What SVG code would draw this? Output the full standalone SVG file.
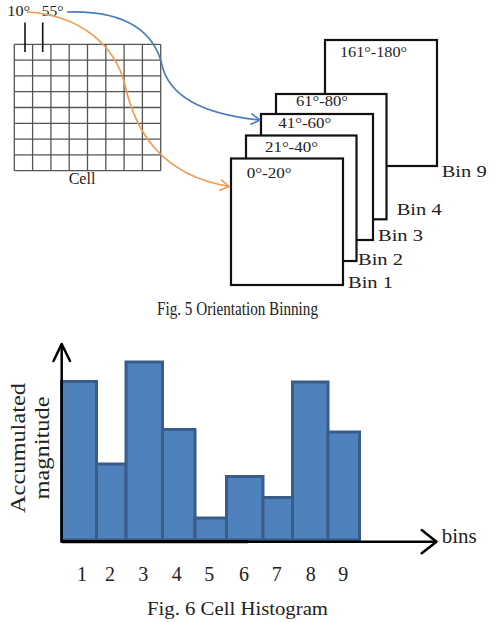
<svg xmlns="http://www.w3.org/2000/svg" width="498" height="622" viewBox="0 0 498 622">
<style>
text{font-family:"Liberation Serif","Times New Roman",serif;fill:#222}
.grid line{stroke:#555;stroke-width:1.3}
.bin{fill:#fff;stroke:#111;stroke-width:2.2}
.deg{font-size:14px}
.binl{font-size:17px}
.bar{fill:#4f81bd;stroke:#385d8a;stroke-width:3}
.ax{stroke:#000;stroke-width:2.5;fill:none;stroke-linecap:round;stroke-linejoin:round}
.cap{font-size:18px}
</style>
<defs>
<marker id="ao" viewBox="-10 -7 12 14" markerWidth="12" markerHeight="14" refX="0" refY="0" orient="auto" markerUnits="userSpaceOnUse">
<path d="M-9,-5.5 L0,0 L-9,5.5" fill="none" stroke="#f39a4e" stroke-width="1.6"/>
</marker>
<marker id="ab" viewBox="-10 -7 12 14" markerWidth="12" markerHeight="14" refX="0" refY="0" orient="auto" markerUnits="userSpaceOnUse">
<path d="M-9,-5.5 L0,0 L-9,5.5" fill="none" stroke="#4a7ebb" stroke-width="1.6"/>
</marker>
</defs>

<g id="cell">
<g class="grid">
<line x1="14.3" y1="44.3" x2="160.7" y2="44.3"/>
<line x1="14.3" y1="60.1" x2="160.7" y2="60.1"/>
<line x1="14.3" y1="75.9" x2="160.7" y2="75.9"/>
<line x1="14.3" y1="91.7" x2="160.7" y2="91.7"/>
<line x1="14.3" y1="107.5" x2="160.7" y2="107.5"/>
<line x1="14.3" y1="123.3" x2="160.7" y2="123.3"/>
<line x1="14.3" y1="139.1" x2="160.7" y2="139.1"/>
<line x1="14.3" y1="154.9" x2="160.7" y2="154.9"/>
<line x1="14.3" y1="170.7" x2="160.7" y2="170.7"/>
<line x1="14.3" y1="44.3" x2="14.3" y2="170.7"/>
<line x1="32.6" y1="44.3" x2="32.6" y2="170.7"/>
<line x1="50.9" y1="44.3" x2="50.9" y2="170.7"/>
<line x1="69.2" y1="44.3" x2="69.2" y2="170.7"/>
<line x1="87.5" y1="44.3" x2="87.5" y2="170.7"/>
<line x1="105.8" y1="44.3" x2="105.8" y2="170.7"/>
<line x1="124.1" y1="44.3" x2="124.1" y2="170.7"/>
<line x1="142.4" y1="44.3" x2="142.4" y2="170.7"/>
<line x1="160.7" y1="44.3" x2="160.7" y2="170.7"/>
</g>
<line x1="25" y1="22.5" x2="25" y2="52" stroke="#111" stroke-width="1.6"/>
<line x1="42.7" y1="22.5" x2="42.7" y2="52" stroke="#111" stroke-width="1.6"/>
<text class="deg" x="7.3" y="16" textLength="22.7" lengthAdjust="spacingAndGlyphs">10°</text>
<text class="deg" x="41.7" y="16" textLength="21.7" lengthAdjust="spacingAndGlyphs">55°</text>
<text x="82" y="184" font-size="16" text-anchor="middle">Cell</text>
</g>

<g id="bin9">
<rect class="bin" x="325" y="40" width="112" height="126"/>
<text class="deg" x="340" y="56.7" textLength="67" lengthAdjust="spacingAndGlyphs">161°-180°</text>
<text class="binl" x="441.7" y="176.7" textLength="45" lengthAdjust="spacingAndGlyphs">Bin 9</text>
</g>
<g id="bin4">
<rect class="bin" x="276" y="94" width="110.5" height="125.3"/>
<text class="deg" x="296" y="105.5" textLength="52" lengthAdjust="spacingAndGlyphs">61°-80°</text>
<text class="binl" x="396.7" y="215" textLength="45" lengthAdjust="spacingAndGlyphs">Bin 4</text>
</g>
<g id="bin3">
<rect class="bin" x="261" y="114" width="112" height="126"/>
<text class="deg" x="278.3" y="128" textLength="53" lengthAdjust="spacingAndGlyphs">41°-60°</text>
<text class="binl" x="378" y="240.7" textLength="45" lengthAdjust="spacingAndGlyphs">Bin 3</text>
</g>
<g id="bin2">
<rect class="bin" x="246" y="135.5" width="110.5" height="125.5"/>
<text class="deg" x="265" y="151.7" textLength="53" lengthAdjust="spacingAndGlyphs">21°-40°</text>
<text class="binl" x="358" y="265" textLength="45" lengthAdjust="spacingAndGlyphs">Bin 2</text>
</g>
<g id="bin1">
<rect class="bin" x="231" y="158.5" width="112" height="126.5"/>
<text class="deg" x="246.7" y="178" textLength="45" lengthAdjust="spacingAndGlyphs">0°-20°</text>
<text class="binl" x="348" y="288" textLength="45" lengthAdjust="spacingAndGlyphs">Bin 1</text>
</g>

<g id="connectors">
<path d="M27,12 C80,15 115,45 125,85 C135,130 160,175 229,186.5" fill="none" stroke="#f39a4e" stroke-width="1.6" marker-end="url(#ao)"/>
<path d="M67,12 C130,10 155,35 162,65 C170,100 210,115 260,120" fill="none" stroke="#4a7ebb" stroke-width="1.6" marker-end="url(#ab)"/>
</g>

<text id="cap5" class="cap" x="157" y="315" textLength="161" lengthAdjust="spacingAndGlyphs">Fig. 5  Orientation Binning</text>

<g id="histogram">
<rect class="bar" x="61.5" y="381.5" width="35" height="158.5"/>
<rect class="bar" x="96.5" y="464" width="29.5" height="76"/>
<rect class="bar" x="126" y="362" width="36.5" height="178"/>
<rect class="bar" x="162.5" y="429.5" width="32.5" height="110.5"/>
<rect class="bar" x="195" y="518" width="31.5" height="22"/>
<rect class="bar" x="226.5" y="476.5" width="36.5" height="63.5"/>
<rect class="bar" x="263" y="497.5" width="29.5" height="42.5"/>
<rect class="bar" x="292.5" y="382" width="35.5" height="158"/>
<rect class="bar" x="328" y="432" width="31.5" height="108"/>
<line x1="62" y1="541.7" x2="248" y2="541.7" stroke="#000" stroke-width="3.2"/>
<path class="ax" d="M61.7,541.7 V344.5"/>
<path class="ax" d="M53.5,361 L61.7,344 L70,361"/>
<path class="ax" d="M61.7,541.7 H435.5"/>
<path class="ax" d="M421.7,530 L436.5,541.7 L421.7,553.3"/>
<text x="441.7" y="543.3" font-size="21">bins</text>
<text transform="translate(25,448) rotate(-90)" font-size="21" text-anchor="middle" textLength="130" lengthAdjust="spacingAndGlyphs">Accumulated</text>
<text transform="translate(49,448) rotate(-90)" font-size="21" text-anchor="middle" textLength="103" lengthAdjust="spacingAndGlyphs">magnitude</text>
<g font-size="20" text-anchor="middle">
<text x="82" y="580.5">1</text>
<text x="110" y="580.5">2</text>
<text x="143.3" y="580.5">3</text>
<text x="176.7" y="580.5">4</text>
<text x="209.3" y="580.5">5</text>
<text x="244" y="580.5">6</text>
<text x="276.7" y="580.5">7</text>
<text x="310.7" y="580.5">8</text>
<text x="343.3" y="580.5">9</text>
</g>
</g>

<text id="cap6" class="cap" x="147" y="614.5" textLength="181" lengthAdjust="spacingAndGlyphs">Fig. 6  Cell Histogram</text>
</svg>
